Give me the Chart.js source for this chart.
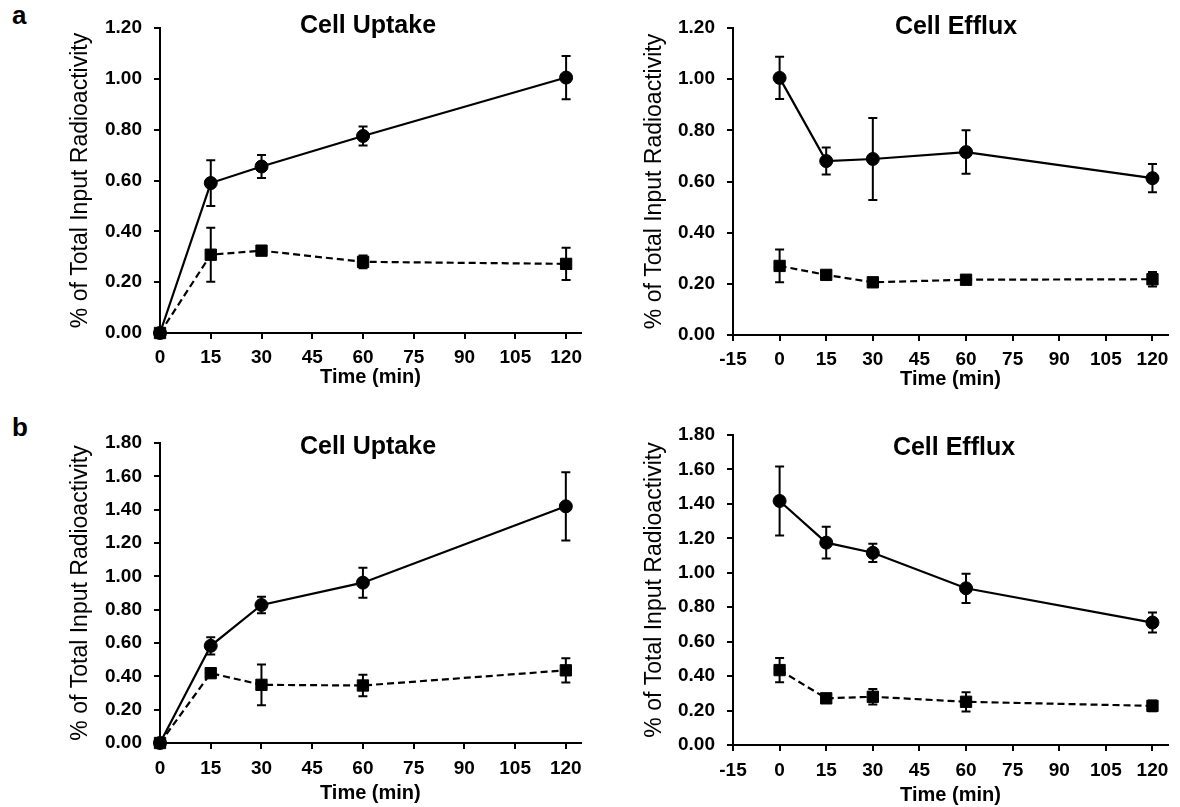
<!DOCTYPE html>
<html>
<head>
<meta charset="utf-8">
<script src="https://cdn.jsdelivr.net/npm/chart.js@4.4.0/dist/chart.umd.min.js"></script>
<style>
  html, body { margin: 0; padding: 0; background: #fff; }
  body { width: 1180px; height: 807px; position: relative; overflow: hidden; font-family: "Liberation Sans", Arial, sans-serif; }
  canvas { position: absolute; }
  .letra { position: absolute; font-weight: bold; font-size: 26px; line-height: 1; color: #000; }
</style>
</head>
<body>
<div class="letra" style="left:12px; top:2px;">a</div>
<div class="letra" style="left:12px; top:414px;">b</div>
<canvas id="chartCaptacionA" width="590" height="400" style="left:0; top:0;"></canvas>
<canvas id="chartEflujoA" width="590" height="400" style="left:590px; top:0;"></canvas>
<canvas id="chartCaptacionB" width="590" height="407" style="left:0; top:400px;"></canvas>
<canvas id="chartEflujoB" width="590" height="407" style="left:590px; top:400px;"></canvas>
<script>
// Tiempos de muestreo (min)
const tiempos = [0, 15, 30, 60, 120];

// Marcas de los ejes
const xTicksCaptacion = [0, 15, 30, 45, 60, 75, 90, 105, 120];
const xTicksEflujo = [-15, 0, 15, 30, 45, 60, 75, 90, 105, 120];
const yTicksA = [0, 0.2, 0.4, 0.6, 0.8, 1.0, 1.2];
const yTicksB = [0, 0.2, 0.4, 0.6, 0.8, 1.0, 1.2, 1.4, 1.6, 1.8];

// Panel a - captación
const captacionA = [0, 0.59, 0.655, 0.775, 1.005];
const captacionAErr = [0, 0.09, 0.045, 0.037, 0.085];
const captacionABloq = [0, 0.308, 0.324, 0.28, 0.272];
const captacionABloqErr = [0, 0.106, 0.01, 0.025, 0.063];

// Panel a - eflujo
const eflujoA = [1.005, 0.68, 0.688, 0.715, 0.613];
const eflujoAErr = [0.083, 0.053, 0.16, 0.085, 0.055];
const eflujoABloq = [0.27, 0.235, 0.206, 0.216, 0.218];
const eflujoABloqErr = [0.064, 0.01, 0.008, 0.008, 0.028];

// Panel b - captación
const captacionB = [0, 0.583, 0.828, 0.962, 1.42];
const captacionBErr = [0, 0.052, 0.05, 0.09, 0.205];
const captacionBBloq = [0, 0.419, 0.349, 0.345, 0.436];
const captacionBBloqErr = [0, 0.01, 0.122, 0.064, 0.073];

// Panel b - eflujo
const eflujoB = [1.417, 1.175, 1.116, 0.91, 0.711];
const eflujoBErr = [0.2, 0.092, 0.053, 0.085, 0.058];
const eflujoBBloq = [0.435, 0.271, 0.28, 0.251, 0.227];
const eflujoBBloqErr = [0.07, 0.01, 0.045, 0.056, 0.031];

const FUENTE = '"Liberation Sans", Arial, sans-serif';

// Barras de error verticales con sus topes
const barrasError = {
    id: 'barrasError',
    afterDatasetsDraw(chart) {
        const { ctx, scales: { x, y } } = chart;
        ctx.save();
        ctx.strokeStyle = '#000';
        ctx.lineWidth = 2;
        ctx.setLineDash([]);
        chart.data.datasets.forEach(ds => {
            if (!ds.errores) return;
            ds.data.forEach((p, j) => {
                const e = ds.errores[j];
                if (!e) return;
                const px = x.getPixelForValue(p.x);
                const arriba = y.getPixelForValue(p.y + e);
                const abajo = y.getPixelForValue(p.y - e);
                ctx.beginPath();
                ctx.moveTo(px, arriba); ctx.lineTo(px, abajo);
                ctx.moveTo(px - 4.5, arriba); ctx.lineTo(px + 4.5, arriba);
                ctx.moveTo(px - 4.5, abajo); ctx.lineTo(px + 4.5, abajo);
                ctx.stroke();
            });
        });
        ctx.restore();
    }
};

// Título del panel (se superpone al borde superior del área)
const tituloPanel = {
    id: 'tituloPanel',
    afterDraw(chart, args, opts) {
        const ctx = chart.ctx;
        ctx.save();
        ctx.font = 'bold 25px ' + FUENTE;
        ctx.fillStyle = '#000';
        ctx.textAlign = 'center';
        ctx.textBaseline = 'alphabetic';
        ctx.fillText(opts.text, opts.x, opts.y);
        ctx.restore();
    }
};

function serie(valores, errores, estilo, guiones, radio) {
    return {
        data: tiempos.map((t, i) => ({ x: t, y: valores[i] })),
        errores: errores,
        borderColor: '#000',
        backgroundColor: '#000',
        borderWidth: 2.2,
        borderDash: guiones,
        pointStyle: estilo,
        pointRadius: radio,
        pointBorderWidth: 1,
        pointBackgroundColor: '#000',
        pointBorderColor: '#000',
        tension: 0,
        clip: false
    };
}

function dibujarPanel(id, cfg) {
    const canvas = document.getElementById(id);
    const W = canvas.width, H = canvas.height;
    const alturaX = H - cfg.area.bottom;
    return new Chart(canvas, {
        type: 'line',
        data: {
            datasets: [
                serie(cfg.solida, cfg.solidaErr, 'circle', [], 6.5),
                serie(cfg.punteada, cfg.punteadaErr, 'rect', [7, 4], 8)
            ]
        },
        options: {
            responsive: false,
            animation: false,
            events: [],
            layout: { padding: { left: 0, top: cfg.area.top, right: W - cfg.area.right, bottom: 0 } },
            plugins: {
                legend: { display: false },
                tooltip: { enabled: false },
                tituloPanel: cfg.titulo
            },
            scales: {
                x: {
                    type: 'linear',
                    min: cfg.xMin,
                    max: cfg.xMax,
                    afterBuildTicks: s => { s.ticks = cfg.xTicks.map(v => ({ value: v })); },
                    afterFit: s => { s.height = alturaX; },
                    grid: { display: true, drawOnChartArea: false, drawTicks: true, tickLength: 6, color: '#000', lineWidth: 2 },
                    border: { display: true, color: '#000', width: 2 },
                    ticks: {
                        color: '#000',
                        font: { family: FUENTE, size: 19, weight: 'bold' },
                        padding: cfg.xTickPad,
                        maxRotation: 0,
                        autoSkip: false
                    },
                    title: {
                        display: true,
                        text: 'Time (min)',
                        color: '#000',
                        font: { family: FUENTE, size: 20, weight: 'bold' },
                        padding: { top: 0, bottom: alturaX - cfg.xTituloGap - 12 }
                    }
                },
                y: {
                    min: 0,
                    max: cfg.yMax,
                    afterBuildTicks: s => { s.ticks = cfg.yTicks.map(v => ({ value: v })); },
                    afterFit: s => { s.width = cfg.area.left; },
                    grid: { display: true, drawOnChartArea: false, drawTicks: true, tickLength: 6, color: '#000', lineWidth: 2 },
                    border: { display: true, color: '#000', width: 2 },
                    ticks: {
                        color: '#000',
                        font: { family: FUENTE, size: 19, weight: 'bold' },
                        padding: 12,
                        callback: v => Number(v).toFixed(2)
                    },
                    title: {
                        display: true,
                        text: '% of Total Input Radioactivity',
                        color: '#000',
                        font: { family: FUENTE, size: 23 },
                        padding: { top: cfg.yTituloX - 14, bottom: 0 }
                    }
                }
            }
        },
        plugins: [barrasError, tituloPanel]
    });
}

dibujarPanel('chartCaptacionA', {
    area: { left: 160, top: 28, right: 587, bottom: 333 },
    xMin: 0, xMax: 124.4, xTicks: xTicksCaptacion, xTickPad: 7, xTituloGap: 44,
    yMax: 1.2, yTicks: yTicksA, yTituloX: 81,
    solida: captacionA, solidaErr: captacionAErr,
    punteada: captacionABloq, punteadaErr: captacionABloqErr,
    titulo: { text: 'Cell Uptake', x: 368, y: 33 }
});

dibujarPanel('chartEflujoA', {
    area: { left: 143, top: 28, right: 578, bottom: 335 },
    xMin: -15, xMax: 125, xTicks: xTicksEflujo, xTickPad: 7, xTituloGap: 44,
    yMax: 1.2, yTicks: yTicksA, yTituloX: 65,
    solida: eflujoA, solidaErr: eflujoAErr,
    punteada: eflujoABloq, punteadaErr: eflujoABloqErr,
    titulo: { text: 'Cell Efflux', x: 366, y: 34 }
});

dibujarPanel('chartCaptacionB', {
    area: { left: 160, top: 43, right: 587, bottom: 343 },
    xMin: 0, xMax: 124.4, xTicks: xTicksCaptacion, xTickPad: 8, xTituloGap: 50,
    yMax: 1.8, yTicks: yTicksB, yTituloX: 81,
    solida: captacionB, solidaErr: captacionBErr,
    punteada: captacionBBloq, punteadaErr: captacionBBloqErr,
    titulo: { text: 'Cell Uptake', x: 368, y: 54 }
});

dibujarPanel('chartEflujoB', {
    area: { left: 143, top: 35, right: 578, bottom: 345 },
    xMin: -15, xMax: 125, xTicks: xTicksEflujo, xTickPad: 8, xTituloGap: 50,
    yMax: 1.8, yTicks: yTicksB, yTituloX: 65,
    solida: eflujoB, solidaErr: eflujoBErr,
    punteada: eflujoBBloq, punteadaErr: eflujoBBloqErr,
    titulo: { text: 'Cell Efflux', x: 364, y: 55 }
});
</script>
</body>
</html>
